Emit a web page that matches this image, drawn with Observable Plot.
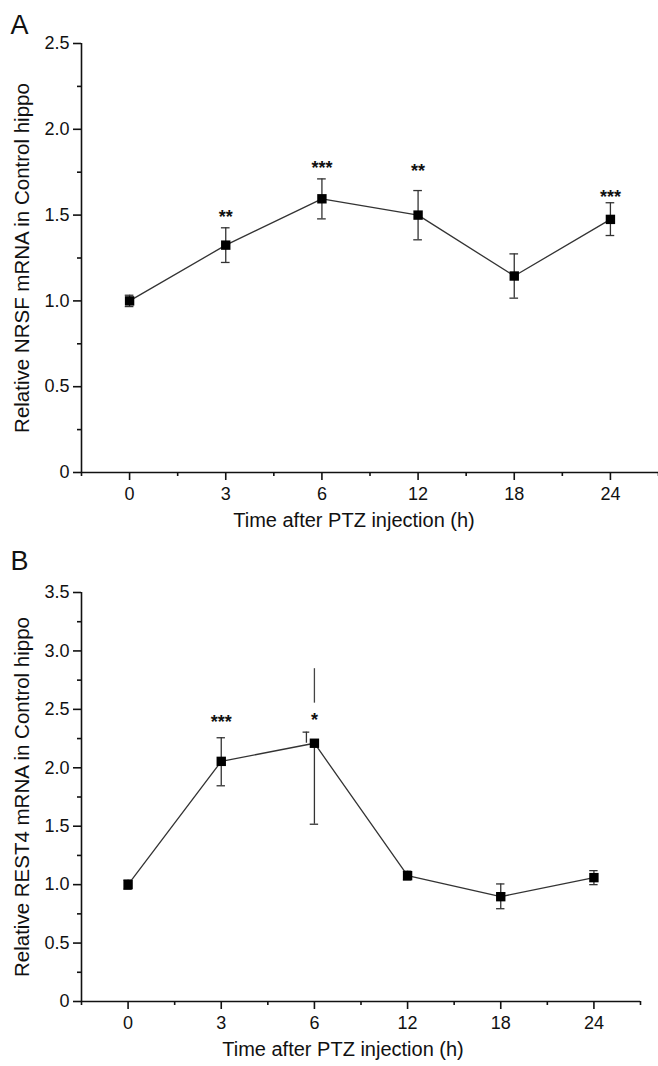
<!DOCTYPE html>
<html>
<head>
<meta charset="utf-8">
<script src="https://cdn.jsdelivr.net/npm/d3@7"></script>
<script src="https://cdn.jsdelivr.net/npm/@observablehq/plot@0.6"></script>
<style>
  html, body { margin: 0; padding: 0; background: #fff; }
  #chart { position: relative; width: 658px; height: 1066px; overflow: hidden; }
  #chart svg { display: block; }
</style>
</head>
<body>
<div id="chart"></div>
<script>
// ---- data ----
const times = ["0", "3", "6", "12", "18", "24"];

// Panel A: NRSF
const nrsfMean = [1.0, 1.325, 1.595, 1.5, 1.145, 1.475];
const nrsfLow  = [0.967, 1.224, 1.478, 1.356, 1.016, 1.381];
const nrsfHigh = [1.033, 1.426, 1.711, 1.643, 1.274, 1.572];
const nrsfSig  = ["", "**", "***", "**", "", "***"];
const nrsfSigY = [null, 1.511, 1.794, 1.779, null, 1.628];

// Panel B: REST4
const rest4Mean = [1.0, 2.055, 2.21, 1.077, 0.897, 1.06];
const rest4Low  = [0.96, 1.846, 1.517, 1.04, 0.794, 1.0];
const rest4High = [1.04, 2.257, 2.305, 1.115, 1.006, 1.12];
const rest4Sig  = ["", "***", "*", "", "", ""];
const rest4SigY = [null, 2.428, 2.442, null, null, null];
// upper whisker at 6 h, partly hidden behind the asterisk
const rest4Stray = [{i: 2, y1: 2.553, y2: 2.848}];

const yTicksA = [0, 0.5, 1.0, 1.5, 2.0, 2.5];
const yMinorA = [0.25, 0.75, 1.25, 1.75, 2.25];
const yTicksB = [0, 0.5, 1.0, 1.5, 2.0, 2.5, 3.0, 3.5];
const yMinorB = [0.25, 0.75, 1.25, 1.75, 2.25, 2.75, 3.25];

const xLabel = "Time after PTZ injection (h)";

// ---- helpers ----
const font = "'Liberation Sans', Arial, Helvetica, sans-serif";
const ink = "#111";
const idx = d3.range(times.length);
const xMinor = d3.range(-0.5, times.length, 1);
const fmtY = d => d === 0 ? "0" : d.toFixed(1);
const capW = 0.045;

function panel({letter, yTitle, mean, low, high, sig, sigY, yMax, yTicks, yMinor,
                height, marginTop, marginBottom, marginRight, titleDx, letterDy, extra = []}) {
  const rows = idx.map(i => ({i, m: mean[i], lo: low[i], hi: high[i], s: sig[i], sy: sigY[i]}));
  const isOdd = d => extra.length > 0 && extra[0].i === d.i;
  return Plot.plot({
    width: 658, height, marginLeft: 81, marginRight, marginTop, marginBottom,
    x: {domain: [-0.5, times.length - 0.5], axis: null},
    y: {domain: [0, yMax], axis: null},
    style: {fontFamily: font, fontSize: "18px", color: ink, background: "white", overflow: "visible"},
    marks: [
      // axes lines
      Plot.ruleY([0], {stroke: ink, strokeWidth: 1.6}),
      Plot.ruleX([-0.5], {y1: 0, y2: yMax, stroke: ink, strokeWidth: 1.6}),
      // x ticks
      Plot.axisX({ticks: idx, tickFormat: i => times[i], tickSize: 8, tickPadding: 7,
                  label: null, stroke: ink, strokeWidth: 1.6, fontSize: 18}),
      Plot.axisX({ticks: xMinor, tickFormat: () => "", tickSize: 4, label: null,
                  stroke: ink, strokeWidth: 1.6}),
      // y ticks
      Plot.axisY({ticks: yTicks, tickFormat: fmtY, tickSize: 8, tickPadding: 4,
                  label: null, stroke: ink, strokeWidth: 1.6, fontSize: 18}),
      Plot.axisY({ticks: yMinor, tickFormat: () => "", tickSize: 4, label: null,
                  stroke: ink, strokeWidth: 1.6}),
      // error bars
      Plot.ruleX(rows.filter(d => !isOdd(d)), {x: "i", y1: "lo", y2: "hi", stroke: "#333", strokeWidth: 1.3}),
      Plot.ruleX(rows.filter(isOdd), {x: "i", y1: "lo", y2: "m", stroke: "#333", strokeWidth: 1.3}),
      Plot.ruleY(rows, {y: "lo", x1: d => d.i - capW, x2: d => d.i + capW, stroke: "#333", strokeWidth: 1.3}),
      Plot.ruleY(rows.filter(d => !isOdd(d)), {y: "hi", x1: d => d.i - capW, x2: d => d.i + capW, stroke: "#333", strokeWidth: 1.3}),
      // odd cap and stray whisker (panel B, 6 h)
      Plot.ruleY(rows.filter(isOdd), {y: "hi", x1: d => d.i - capW * 0.8, x2: d => d.i + capW * 0.8, dx: -8, stroke: "#333", strokeWidth: 1.3}),
      Plot.ruleX(rows.filter(isOdd), {x: "i", y1: "hi", y2: "m", dx: -8, stroke: "#333", strokeWidth: 1.3}),
      Plot.ruleX(extra, {x: "i", y1: "y1", y2: "y2", stroke: "#444", strokeWidth: 1.3}),
      // line & squares
      Plot.line(rows, {x: "i", y: "m", stroke: "#333", strokeWidth: 1.3}),
      Plot.dot(rows, {x: "i", y: "m", symbol: "square", r: 5.3, fill: "#000", stroke: "none"}),
      // significance
      Plot.text(rows.filter(d => d.s), {x: "i", y: "sy", text: "s", fontSize: 18, fontWeight: "bold", fill: ink, dy: 4}),
      // titles
      Plot.text([xLabel], {frameAnchor: "bottom", dy: 54, dx: titleDx, fontSize: 20, fill: ink}),
      Plot.text([yTitle], {frameAnchor: "left", textAnchor: "middle", rotate: -90, dx: -59, fontSize: 20.5, fill: ink}),
      Plot.text([letter], {frameAnchor: "top-left", textAnchor: "start", lineAnchor: "bottom",
                           dx: -71, dy: letterDy, fontSize: 27, fill: ink})
    ]
  });
}

const chart = document.getElementById("chart");

const a = panel({
  letter: "A", yTitle: "Relative NRSF mRNA in Control hippo",
  mean: nrsfMean, low: nrsfLow, high: nrsfHigh, sig: nrsfSig, sigY: nrsfSigY,
  yMax: 2.5, yTicks: yTicksA, yMinor: yMinorA,
  height: 540, marginTop: 43, marginBottom: 68, marginRight: 0, titleDx: -16, letterDy: -10
});
a.style.position = "absolute"; a.style.left = "0px"; a.style.top = "0px";
chart.appendChild(a);

const b = panel({
  letter: "B", yTitle: "Relative REST4 mRNA in Control hippo",
  mean: rest4Mean, low: rest4Low, high: rest4High, sig: rest4Sig, sigY: rest4SigY,
  yMax: 3.5, yTicks: yTicksB, yMinor: yMinorB,
  height: 526, marginTop: 52, marginBottom: 65, marginRight: 18, titleDx: -18, letterDy: -23,
  extra: rest4Stray
});
b.style.position = "absolute"; b.style.left = "0px"; b.style.top = "540px";
chart.appendChild(b);
</script>
</body>
</html>
